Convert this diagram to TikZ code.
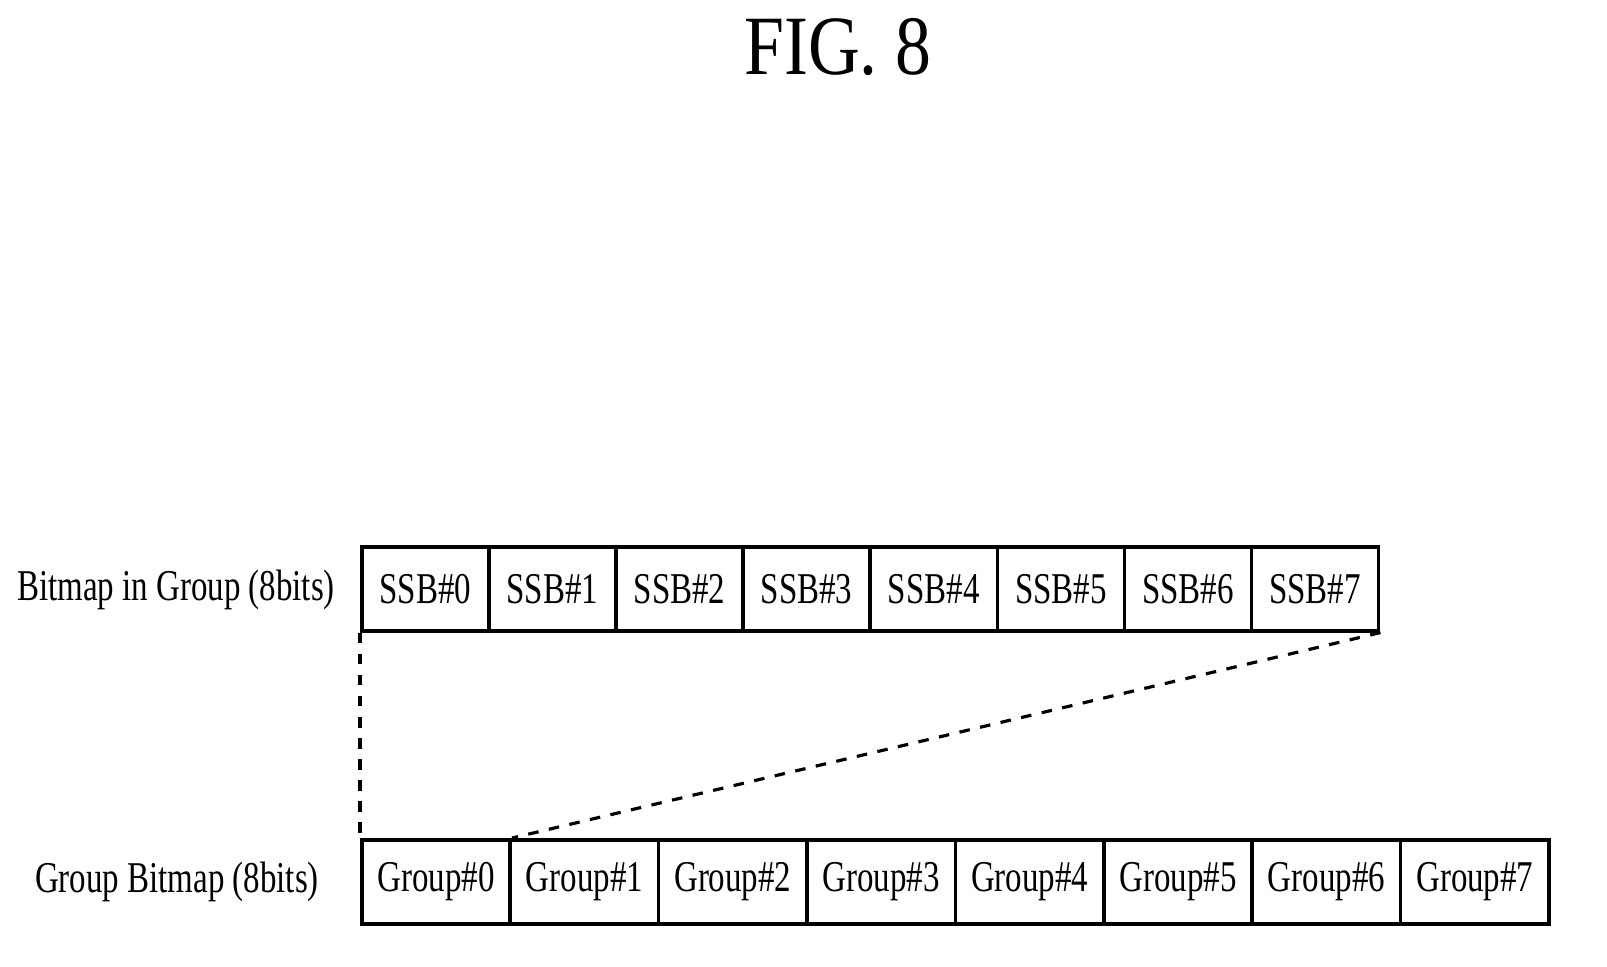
\documentclass[tikz,border=0pt]{standalone}
\usepackage{fontspec}
\setmainfont{Liberation Serif}
\begin{document}
\begin{tikzpicture}[x=0.01cm,y=-0.01cm,
  cell/.style={draw,line width=1pt,minimum height=0.84cm,inner sep=0pt,font=\fontsize{12.5}{15}\selectfont},
  lbl/.style={font=\fontsize{12.5}{15}\selectfont},
  dashline/.style={dashed,line width=0.9pt}]
\useasboundingbox (0,0) rectangle (1607,966);
\node[font=\fontsize{24}{28}\selectfont] (title) at (838,47) {\scalebox{0.85}[1]{FIG.\ 8}};
\foreach \i in {0,...,7}{
  \node[cell,minimum width=1.271cm,anchor=north west] (s\i) at ({360+127.1*\i},545) {\scalebox{0.75}[1]{SSB\#\i}};
  \node[cell,minimum width=1.484cm,anchor=north west] (g\i) at ({360+148.4*\i},838) {\scalebox{0.75}[1]{Group\#\i}};
}
\node[lbl] (l1) at (176,590) {\scalebox{0.75}[1]{Bitmap in Group (8bits)}};
\node[lbl] (l2) at (177,882) {\scalebox{0.75}[1]{Group Bitmap (8bits)}};
\draw[dashline] (s0.south west) -- (g0.north west);
\draw[dashline] (s7.south east) -- (g0.north east);
\end{tikzpicture}
\end{document}
